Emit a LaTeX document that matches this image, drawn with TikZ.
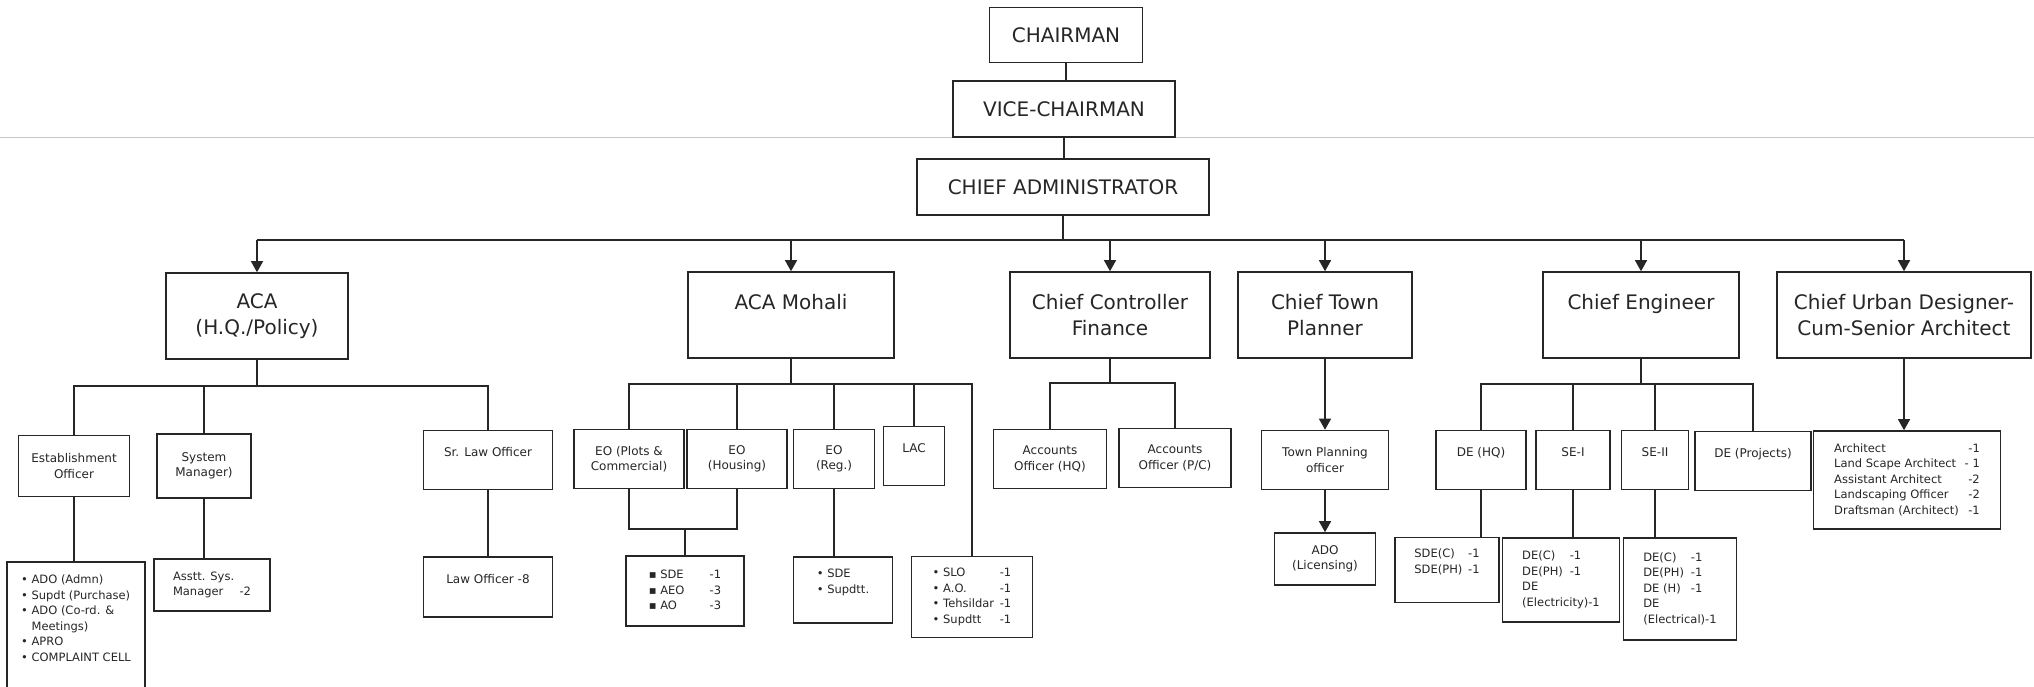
\documentclass[tikz,border=0pt]{standalone}
\usepackage{fontspec}
\setmainfont{DejaVu Sans}
\usepackage{tikz}
\usetikzlibrary{arrows.meta}

\begin{document}
\begin{tikzpicture}[x=1pt, y=-1pt]
  \tikzstyle{box}=[draw=black!85, line width=1.6pt, inner sep=2pt, align=center, text=black!85]
  \tikzstyle{officebox}=[box, font=\fontsize{20}{24}\selectfont, minimum height=56pt]
  \tikzstyle{headbox}=[box, font=\fontsize{20}{26}\selectfont, minimum height=86pt]
  \tikzstyle{unitbox}=[box, font=\fontsize{12}{15.5}\selectfont, minimum height=59pt]
  \tikzstyle{staffbox}=[box, font=\fontsize{11.5}{15.5}\selectfont, align=left]
  \tikzstyle{link}=[draw=black!85, line width=1.4pt]
  \tikzstyle{arr}=[link, -{Triangle[length=11pt, width=12pt]}]
  \tikzstyle{scan}=[draw=black!22, line width=0.8pt]

  \useasboundingbox (0,0) rectangle (2034,686);
  \clip (0,0) rectangle (2034,686);
  \fill[white] (0,0) rectangle (2034,686);

  \coordinate (scanL) at (0,137);
  \coordinate (scanR) at (2034,137);
  \draw[scan] (scanL) -- (scanR);

  \node (chair) at (1066,35) [officebox, minimum width=153pt, minimum height=55pt] {CHAIRMAN};
  \node (vice) at (1064,109) [officebox, minimum width=222pt] {VICE-CHAIRMAN};
  \node (ca) at (1063,187) [officebox, minimum width=292pt] {CHIEF ADMINISTRATOR};

  \node (aca) at (257,316) [headbox, minimum width=182pt] {ACA\\(H.Q./Policy)};
  \node (mohali) at (791,315) [headbox, minimum width=206pt] {ACA Mohali\\~};
  \node (ccf) at (1110,315) [headbox, minimum width=200pt] {Chief Controller\\Finance};
  \node (ctp) at (1325,315) [headbox, minimum width=174pt] {Chief Town\\Planner};
  \node (ce) at (1641,315) [headbox, minimum width=196pt] {Chief Engineer\\~};
  \node (cud) at (1904,315) [headbox, minimum width=254pt] {Chief Urban Designer-\\Cum-Senior Architect};

  \node (estab) at (74,466) [unitbox, minimum width=111pt, minimum height=61pt] {Establishment\\Officer};
  \node (sysmgr) at (204,466) [unitbox, minimum width=94pt, minimum height=64pt] {System\\Manager)};
  \node (srlaw) at (488,460) [unitbox, minimum width=129pt] {Sr. Law Officer\\~};
  \node (eopc) at (629,459) [unitbox, minimum width=110pt] {EO (Plots \&\\Commercial)};
  \node (eoh) at (737,459) [unitbox, minimum width=100pt] {EO\\(Housing)};
  \node (eoreg) at (834,459) [unitbox, minimum width=81pt] {EO\\(Reg.)};
  \node (lac) at (914,456) [unitbox, minimum width=61pt] {LAC\\~};
  \node (aohq) at (1050,459) [unitbox, minimum width=113pt] {Accounts\\Officer (HQ)};
  \node (aopc) at (1175,458) [unitbox, minimum width=112pt] {Accounts\\Officer (P/C)};
  \node (tpo) at (1325,460) [unitbox, minimum width=127pt] {Town Planning\\officer};
  \node (dehq) at (1481,460) [unitbox, minimum width=90pt] {DE (HQ)\\~};
  \node (sei) at (1573,460) [unitbox, minimum width=74pt] {SE-I\\~};
  \node (seii) at (1655,460) [unitbox, minimum width=67pt] {SE-II\\~};
  \node (deproj) at (1753,461) [unitbox, minimum width=116pt] {DE (Projects)\\~};
  \node (arch) at (1907,480) [staffbox, minimum width=187pt, minimum height=98pt] {\begin{tabular}{@{}l@{\hspace{0.5em}}r@{}}
    Architect & -1\\
    Land Scape Architect & - 1\\
    Assistant Architect & -2\\
    Landscaping Officer & -2\\
    Draftsman (Architect) & -1
  \end{tabular}};

  \node (estlist) at (76,561) [staffbox, anchor=north, minimum width=138pt, inner ysep=11pt] {\begin{tabular}{@{}l@{}}
    • ADO (Admn)\\
    • Supdt (Purchase)\\
    • ADO (Co-rd. \&\\
    \phantom{• }Meetings)\\
    • APRO\\
    • COMPLAINT CELL\\
    \mbox{}\\
    \mbox{}
  \end{tabular}};
  \node (asstt) at (212,585) [staffbox, minimum width=116pt, minimum height=52pt] {Asstt. Sys.\\Manager\hspace{1.4em}-2};
  \node (lawoff) at (488,587) [unitbox, minimum width=129pt, minimum height=60pt] {Law Officer -8\\~};
  \node (sdelist) at (685,591) [staffbox, minimum width=118pt, minimum height=70pt] {\begin{tabular}{@{}l@{\hspace{2.2em}}l@{}}
    ▪ SDE & -1\\
    ▪ AEO & -3\\
    ▪ AO & -3
  \end{tabular}};
  \node (supdtt) at (843,590) [staffbox, minimum width=99pt, minimum height=66pt] {\begin{tabular}{@{}l@{}}
    • SDE\\
    • Supdtt.\\
    \mbox{}
  \end{tabular}};
  \node (slo) at (972,597) [staffbox, minimum width=121pt, minimum height=81pt] {\begin{tabular}{@{}l@{\hspace{0.5em}}l@{}}
    • SLO & -1\\
    • A.O. & -1\\
    • Tehsildar & -1\\
    • Supdtt & -1
  \end{tabular}};
  \node (ado) at (1325,559) [unitbox, minimum width=101pt, minimum height=52pt] {ADO\\(Licensing)};
  \node (sdec) at (1447,570) [staffbox, minimum width=104pt, minimum height=65pt] {\begin{tabular}{@{}l@{\hspace{0.5em}}l@{}}
    SDE(C) & -1\\
    SDE(PH) & -1\\
    \multicolumn{2}{@{}l@{}}{\mbox{}}
  \end{tabular}};
  \node (seilist) at (1561,580) [staffbox, minimum width=117pt, minimum height=84pt] {\begin{tabular}{@{}l@{\hspace{0.6em}}l@{}}
    DE(C) & -1\\
    DE(PH) & -1\\
    \multicolumn{2}{@{}l@{}}{DE}\\
    \multicolumn{2}{@{}l@{}}{(Electricity)-1}
  \end{tabular}};
  \node (seiilist) at (1680,589) [staffbox, minimum width=113pt, minimum height=102pt] {\begin{tabular}{@{}l@{\hspace{0.6em}}l@{}}
    DE(C) & -1\\
    DE(PH) & -1\\
    DE (H) & -1\\
    \multicolumn{2}{@{}l@{}}{DE}\\
    \multicolumn{2}{@{}l@{}}{(Electrical)-1}
  \end{tabular}};

  \draw[link] (chair) -- (chair |- vice.north);
  \draw[link] (vice) -- (vice |- ca.north);

  \coordinate (mainbus) at (1063,240);
  \draw[link] (ca) -- (ca |- mainbus);
  \draw[link] (aca |- mainbus) -- (cud |- mainbus);
  \foreach \n in {aca,mohali,ccf,ctp,ce,cud}
    \draw[arr] (\n |- mainbus) -- (\n);

  \coordinate (acabus) at (257,386);
  \draw[link] (aca) -- (acabus);
  \draw[link] (estab) |- (srlaw |- acabus) -- (srlaw);
  \draw[link] (sysmgr) -- (sysmgr |- acabus);
  \draw[link] (estab) -- (estab |- estlist.north);
  \draw[link] (sysmgr) -- (sysmgr |- asstt.north);
  \draw[link] (srlaw) -- (lawoff);

  \coordinate (mbus) at (791,384);
  \draw[link] (mohali) -- (mbus);
  \draw[link] (eopc) |- (slo |- mbus) -- (slo);
  \foreach \n in {eoh,eoreg,lac}
    \draw[link] (\n) -- (\n |- mbus);
  \coordinate (eojoin) at (685,529);
  \draw[link] (eopc) |- (eojoin) -| (eoh);
  \draw[link] (eojoin) -- (sdelist);
  \draw[link] (eoreg) -- (eoreg |- supdtt.north);

  \coordinate (cbus) at (1110,383);
  \draw[link] (ccf) -- (cbus);
  \draw[link] (aohq) |- (aopc |- cbus) -- (aopc);

  \draw[arr] (ctp) -- (tpo);
  \draw[arr] (tpo) -- (ado);

  \coordinate (ebus) at (1641,384);
  \draw[link] (ce) -- (ebus);
  \draw[link] (dehq) |- (deproj |- ebus) -- (deproj);
  \foreach \n in {sei,seii}
    \draw[link] (\n) -- (\n |- ebus);
  \draw[link] (dehq) -- (dehq |- sdec.north);
  \draw[link] (sei) -- (sei |- seilist.north);
  \draw[link] (seii) -- (seii |- seiilist.north);

  \draw[arr] (cud) -- (cud |- arch.north);
\end{tikzpicture}
\end{document}
